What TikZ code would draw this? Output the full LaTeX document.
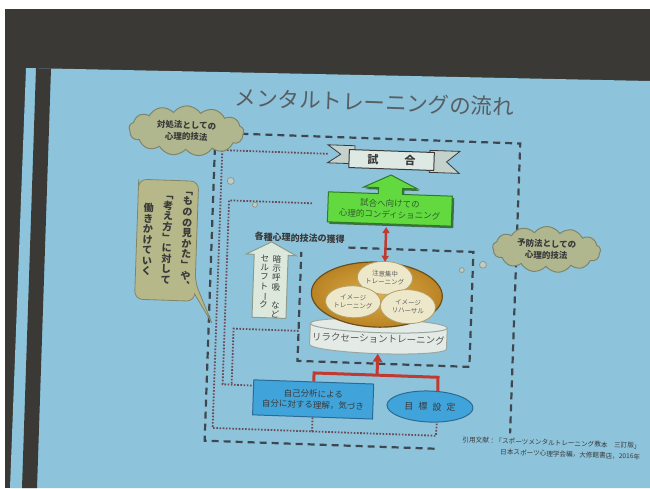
\documentclass[tikz,border=0pt]{standalone}
\usepackage{fontspec}
\setmainfont{Noto Sans CJK JP}
\usetikzlibrary{shapes.symbols,shapes.geometric,arrows.meta}
\definecolor{bgdark}{HTML}{3A3935}
\definecolor{slidebg}{HTML}{8DC4DB}
\definecolor{dashc}{HTML}{3E474F}
\definecolor{dotc}{HTML}{6B4A57}
\definecolor{cloudf}{HTML}{B0B68E}
\definecolor{calloutf}{HTML}{B6B88A}
\definecolor{cloudd}{HTML}{80856A}
\definecolor{greenf}{HTML}{63D940}
\definecolor{greend}{HTML}{2F7A26}
\definecolor{greensh}{HTML}{3F6E48}
\definecolor{greent}{HTML}{2D5E2A}
\definecolor{bluef}{HTML}{40A4DB}
\definecolor{blued}{HTML}{2B6A94}
\definecolor{redc}{HTML}{C13A2F}
\definecolor{txt}{HTML}{3A3A3A}
\definecolor{titlec}{HTML}{575D63}
\definecolor{ovalin}{HTML}{E0AE48}
\definecolor{ovalout}{HTML}{B98324}
\definecolor{ovald}{HTML}{6A4E1E}
\definecolor{circf}{HTML}{ECE8C9}
\definecolor{circd}{HTML}{B39F66}
\definecolor{cylf}{HTML}{E4EBE6}
\definecolor{cyld}{HTML}{9AA6A0}
\definecolor{paled}{HTML}{DCE8DC}
\definecolor{paleb}{HTML}{8C9C8E}
\definecolor{bannf}{HTML}{DFE9E3}
\definecolor{tailf}{HTML}{C5D2CC}
\definecolor{dotcirc}{HTML}{BFCBC4}
\begin{document}
\begin{tikzpicture}[x=1pt,y=-1pt,
  dashedline/.style={draw=dashc,line width=2.2pt,dash pattern=on 7pt off 5pt},
  dottedline/.style={draw=dotc,line width=1.8pt,dash pattern=on 1.6pt off 1.6pt},
  cloudbox/.style={cloud,cloud puffs=13,cloud puff arc=110,aspect=2.4,fill=cloudf,draw=cloudd,line width=1pt,inner sep=0pt,align=center,text=txt,font=\fontsize{8.5}{11.5}\selectfont\bfseries},
  txtnode/.style={inner sep=0pt,align=center,text=txt},
  bluebox/.style={fill=bluef,draw=blued,line width=1pt,inner sep=0pt,align=center,text=txt,font=\fontsize{8.5}{11}\selectfont},
  redline/.style={draw=redc,line width=3pt},
  incirc/.style={ellipse,fill=circf,draw=circd,line width=0.8pt,inner sep=0pt,align=center,text=txt!80,font=\fontsize{6.5}{8}\selectfont},
  bubble/.style={circle,fill=dotcirc,draw=paleb,line width=0.8pt,inner sep=0pt},
  tate/.style={inner sep=0pt,align=center,text=txt}
]
\useasboundingbox (0,0) rectangle (650,488);
\fill[bgdark] (0,0) rectangle (650,488);
\fill[white] (0,0) rectangle (650,9);
\fill[white] (0,0) rectangle (5,488);
\fill[slidebg] (26,68) -- (650,81) -- (650,488) -- (10,488) -- cycle;
\fill[bgdark] (36,68.2) -- (51,68.5) -- (37,488) -- (22,488) -- cycle;

\begin{scope}[rotate around={-2:(360,290)},transform shape]
\node[txtnode,text=titlec,font=\fontsize{21.5}{24}\selectfont] (title) at (368,102) {メンタルトレーニングの流れ};
\coordinate (o1) at (440,446);
\coordinate (o2) at (210,446);
\coordinate (o3) at (210,138);
\coordinate (o4) at (515,138);
\coordinate (o5) at (515,428);
\draw[dashedline] (o1) -- (o2) -- (o3) -- (o4) -- (o5);

% banner
\coordinate (bannerL) at (323,155);
\filldraw[fill=tailf,draw=txt,line width=0.8pt] (350,146) -- (323,146) -- (336,155) -- (323,164) -- (350,164) -- cycle;
\filldraw[fill=tailf,draw=txt,line width=0.8pt] (425,148) -- (455,148) -- (442,159) -- (455,170) -- (425,170) -- cycle;
\node[draw=txt,fill=bannf,line width=1pt,minimum width=85pt,minimum height=18pt,inner sep=0pt,font=\fontsize{11}{12}\selectfont\bfseries,text=txt] (banner) at (387,159) {試\hspace{26pt}合};

% green arrow box
\fill[greensh] (327,195) -- (377,195) -- (377,189) -- (362,189) -- (389,176) -- (416,189) -- (401,189) -- (401,195) -- (451,195) -- (451,225) -- (327,225) -- cycle;
\filldraw[fill=greenf,draw=greend,line width=1pt] (325,193) -- (375,193) -- (375,187) -- (360,187) -- (387,174) -- (414,187) -- (399,187) -- (399,193) -- (449,193) -- (449,223) -- (325,223) -- cycle;
\node[txtnode,text=greent,font=\fontsize{8.5}{11}\selectfont,minimum width=124pt,minimum height=30pt] (cond) at (387,208) {試合へ向けての\\心理的コンディショニング};

% inner dashed region
\draw[dashedline] (347,248) -- (472,248) -- (472,363) -- (300,363) -- (300,254);
\node[txtnode,font=\fontsize{9}{11}\selectfont\bfseries] (skills) at (298,240) {各種心理的技法の獲得};

% cylinder
\fill[cylf] (311.5,325) rectangle (448.5,346);
\fill[cylf] (380,346) ellipse [x radius=68.5pt,y radius=7pt];
\draw[cyld,line width=1pt] (311.5,325) -- (311.5,346) arc[start angle=180,end angle=360,x radius=68.5pt,y radius=7pt] -- (448.5,325);
\draw[cyld,line width=1pt,fill=cylf] (380,325) ellipse [x radius=68.5pt,y radius=7pt];
\node[txtnode,font=\fontsize{9.5}{11}\selectfont,text=txt!85] (relax) at (380,338) {リラクセーショントレーニング};
\coordinate (cylbot) at (380,353);

% oval
\node[ellipse,draw=ovald,line width=1.2pt,inner color=ovalin,outer color=ovalout,minimum width=131pt,minimum height=65pt,inner sep=0pt] (oval) at (377,294) {};
\node[incirc,minimum width=50pt,minimum height=33pt] (c1) at (384.5,277) {注意集中\\トレーニング};
\node[incirc,minimum width=55pt,minimum height=32pt] (c2) at (353.5,302) {イメージ\\トレーニング};
\node[incirc,minimum width=55pt,minimum height=34pt] (c3) at (408.5,305) {イメージ\\リハーサル};

\draw[redc,line width=2.5pt,{Triangle[length=6pt,width=7pt]}-{Triangle[length=6pt,width=7pt]}] ([xshift=-3pt,yshift=-3pt]cond.south) -- ([xshift=7pt]oval.north);

% bottom boxes
\node[bluebox,minimum width=120pt,minimum height=35pt] (self) at (317,401) {自己分析による\\自分に対する理解，気づき};
\node[ellipse,fill=bluef,draw=blued,line width=1pt,minimum width=86pt,minimum height=31pt,inner sep=0pt,font=\fontsize{9}{11}\selectfont,text=txt] (goal) at (434,404) {目\hspace{5pt}標\hspace{5pt}設\hspace{5pt}定};
\coordinate (jl) at (317,374.5);
\coordinate (jr) at (441,374.5);
\coordinate (jm) at (380,374.5);
\draw[redline] (self.north) -- (jl) -- (jr) -- (goal.65);
\draw[redline,-{Triangle[length=8pt,width=9pt]}] (jm) -- (cylbot);

% dotted lines
\coordinate (d2s) at (309,205);
\coordinate (inL) at (300,333);
\coordinate (dA) at (217.5,155);
\coordinate (dB) at (217.5,433);
\coordinate (dC) at (441,433);
\coordinate (dD) at (317,433);
\coordinate (dE) at (226,205);
\coordinate (dF) at (226,389);
\coordinate (dG) at (235,333);
\coordinate (dH) at (235,389);
\draw[dottedline] (bannerL) -- (dA) -- (dB) -- (dC) -- (goal.-65);
\draw[dottedline] (self.south) -- (dD);
\draw[dottedline] (d2s) -- (dE) -- (dF) -- (self.169);
\draw[dottedline] (inL) -- (dG) -- (dH);

% clouds
\node[cloudbox,minimum width=115pt,minimum height=50pt] (cl1) at (181,137) {対処法としての\\心理的技法};
\node[cloudbox,minimum width=108pt,minimum height=46pt] (cl2) at (545,243) {予防法としての\\心理的技法};
\node[bubble,minimum size=7pt] (b1) at (227,185.5) {};
\node[bubble,minimum size=5pt] (b2) at (252,208.5) {};
\node[bubble,minimum size=7pt] (b3) at (482,260.5) {};
\node[bubble,minimum size=5pt] (b4) at (461,266.5) {};

% callout
\filldraw[fill=calloutf,draw=cloudd,line width=0.8pt] (135,195) [rounded corners=8pt] -- (135,187) -- (195,187) -- (195,288) [sharp corners] -- (213,328) -- (195,300) [rounded corners=8pt] -- (195,307) -- (135,307) -- cycle;
\node[tate,font=\fontsize{10}{10.6}\selectfont\bfseries] (col1) at (185,247) {﹁\\も\\の\\の\\見\\か\\た\\﹂\\や\\︑};
\node[tate,font=\fontsize{10}{10.6}\selectfont\bfseries] (col2) at (165.5,247) {﹁\\考\\え\\方\\﹂\\に\\対\\し\\て};
\node[tate,font=\fontsize{10}{10.6}\selectfont\bfseries] (col3) at (146,247) {働\\き\\か\\け\\て\\い\\く};

% up arrow
\filldraw[fill=paled,draw=paleb,line width=1pt] (270,245) -- (295,258) -- (287,258) -- (287,321) -- (253,321) -- (253,258) -- (245,258) -- cycle;
\node[tate,anchor=north,font=\fontsize{8.5}{9.3}\selectfont] (tA) at (276,258) {暗\\示\\呼\\吸\\　\\な\\ど};
\node[tate,anchor=north,font=\fontsize{8.5}{9.3}\selectfont] (tB) at (264,258) {セ\\ル\\フ\\ト\\\rotatebox[origin=c]{-90}{ー}\\ク};

% citation
\node[txtnode,anchor=east,font=\fontsize{6.6}{8}\selectfont] (cite1) at (646,436) {引用文献：「スポーツメンタルトレーニング教本　三訂版」};
\node[txtnode,anchor=east,font=\fontsize{6.6}{8}\selectfont] (cite2) at (646,447) {日本スポーツ心理学会編，大修館書店，2016年};
\end{scope}
\end{tikzpicture}
\end{document}
